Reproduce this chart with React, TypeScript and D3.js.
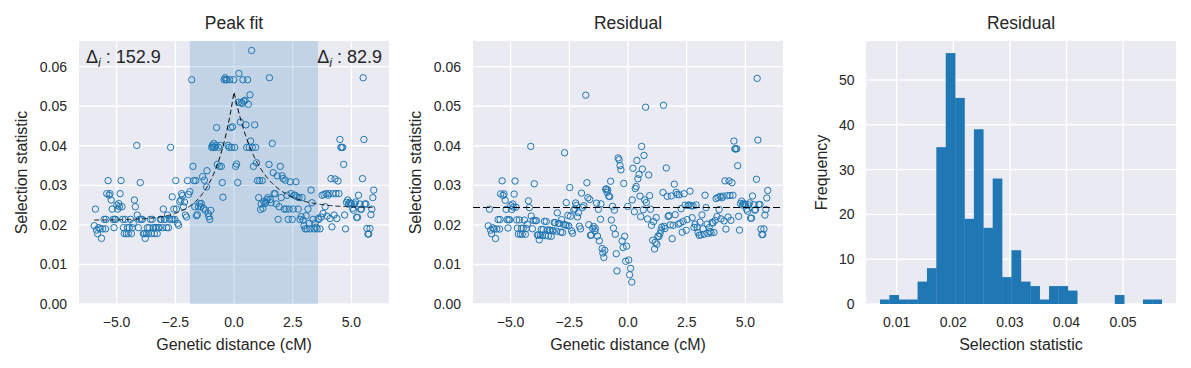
import React from 'react';
import * as d3 from 'd3';

// ---------- data ----------
const distance = [
  -5.95,-5.90,-5.85,-5.81,-5.76,-5.70,-5.64,-5.59,-5.53,-5.47,-5.45,-5.42,-5.36,-5.32,-5.28,-5.23,-5.19,-5.15,-5.11,-5.08,
  -5.04,-4.99,-4.95,-4.91,-4.88,-4.85,-4.81,-4.77,-4.74,-4.71,-4.67,-4.63,-4.58,-4.54,-4.50,-4.46,-4.41,-4.37,-4.33,-4.29,
  -4.24,-4.20,-4.14,-4.12,-4.07,-4.03,-3.99,-3.95,-3.90,-3.86,-3.82,-3.78,-3.73,-3.69,-3.65,-3.61,-3.56,-3.52,-3.48,-3.44,
  -3.39,-3.35,-3.31,-3.27,-3.22,-3.18,-3.14,-3.10,-3.04,-3.01,-2.97,-2.93,-2.87,-2.83,-2.79,-2.74,-2.70,-2.66,-2.63,-2.60,
  -2.56,-2.52,-2.48,-2.45,-2.40,-2.36,-2.31,-2.26,-2.23,-2.19,-2.15,-2.11,-2.07,-2.02,-1.98,-1.94,-1.88,-1.80,-1.75,-1.71,
  -1.67,-1.63,-1.60,-1.56,-1.51,-1.46,-1.41,-1.39,-1.34,-1.30,-1.26,-1.22,-1.17,-1.15,-1.10,-1.07,-1.03,-0.99,-0.95,-0.92,
  -0.89,-0.86,-0.82,-0.78,-0.74,-0.71,-0.66,-0.62,-0.58,-0.54,-0.50,-0.47,-0.42,-0.38,-0.34,-0.30,-0.25,-0.21,-0.18,-0.14,
  -0.10,-0.06,-0.01,0.03,0.07,0.11,0.16,0.18,0.21,0.27,0.31,0.35,0.38,0.42,0.47,0.51,0.54,0.58,0.61,0.65,
  0.68,0.71,0.75,0.78,0.83,0.88,0.92,0.96,1.00,1.05,1.09,1.13,1.16,1.20,1.23,1.27,1.32,1.36,1.40,1.44,
  1.49,1.51,1.54,1.58,1.63,1.67,1.71,1.75,1.80,1.84,1.88,1.92,1.97,2.01,2.05,2.09,2.14,2.18,2.22,2.26,
  2.31,2.35,2.39,2.43,2.48,2.52,2.56,2.60,2.64,2.69,2.73,2.77,2.81,2.86,2.90,2.94,2.98,3.03,3.07,3.11,
  3.15,3.20,3.24,3.28,3.32,3.37,3.41,3.45,3.49,3.54,3.58,3.62,3.66,3.71,3.75,3.79,3.83,3.88,3.92,3.96,
  4.00,4.05,4.09,4.13,4.17,4.21,4.26,4.30,4.34,4.38,4.43,4.47,4.51,4.55,4.58,4.63,4.67,4.71,4.75,4.79,
  4.84,4.88,4.92,4.96,5.01,5.05,5.09,5.13,5.18,5.22,5.26,5.30,5.35,5.39,5.43,5.47,5.50,5.53,5.57,5.62,
  5.66,5.70,5.74,5.79,5.83,5.87,5.91,5.95,
];

const selection = [
  0.0198,0.0240,0.0187,0.0178,0.0193,0.0190,0.0166,0.0190,0.0214,0.0190,0.0214,0.0279,0.0312,0.0275,0.0279,0.0263,0.0240,0.0214,0.0193,0.0214,
  0.0214,0.0250,0.0240,0.0254,0.0246,0.0279,0.0312,0.0246,0.0214,0.0193,0.0178,0.0214,0.0178,0.0193,0.0178,0.0193,0.0214,0.0178,0.0193,0.0204,
  0.0263,0.0246,0.0401,0.0225,0.0193,0.0214,0.0307,0.0214,0.0214,0.0178,0.0178,0.0166,0.0178,0.0193,0.0178,0.0193,0.0214,0.0178,0.0214,0.0193,
  0.0178,0.0193,0.0193,0.0178,0.0193,0.0193,0.0214,0.0214,0.0193,0.0240,0.0214,0.0214,0.0193,0.0225,0.0193,0.0214,0.0396,0.0214,0.0271,0.0214,
  0.0240,0.0214,0.0312,0.0240,0.0204,0.0199,0.0259,0.0263,0.0279,0.0274,0.0246,0.0258,0.0225,0.0220,0.0312,0.0277,0.0284,0.0567,0.0348,0.0312,
  0.0246,0.0312,0.0223,0.0226,0.0246,0.0254,0.0246,0.0254,0.0322,0.0242,0.0313,0.0237,0.0296,0.0337,0.0229,0.0221,0.0214,0.0237,0.0396,0.0401,
  0.0396,0.0406,0.0396,0.0401,0.0446,0.0353,0.0396,0.0348,0.0401,0.0348,0.0307,0.0270,0.0567,0.0572,0.0567,0.0567,0.0401,0.0396,0.0567,0.0446,
  0.0396,0.0448,0.0567,0.0396,0.0348,0.0354,0.0307,0.0510,0.0583,0.0460,0.0510,0.0507,0.0567,0.0513,0.0515,0.0453,0.0396,0.0567,0.0505,0.0396,
  0.0529,0.0412,0.0641,0.0396,0.0348,0.0453,0.0396,0.0357,0.0312,0.0269,0.0312,0.0239,0.0253,0.0312,0.0242,0.0259,0.0254,0.0258,0.0264,0.0269,
  0.0353,0.0572,0.0264,0.0256,0.0406,0.0332,0.0279,0.0279,0.0253,0.0324,0.0214,0.0246,0.0348,0.0269,0.0324,0.0317,0.0240,0.0313,0.0240,0.0275,
  0.0214,0.0240,0.0309,0.0279,0.0214,0.0240,0.0275,0.0275,0.0309,0.0271,0.0240,0.0269,0.0214,0.0221,0.0269,0.0212,0.0198,0.0190,0.0223,0.0190,
  0.0240,0.0204,0.0190,0.0288,0.0256,0.0214,0.0190,0.0204,0.0194,0.0190,0.0216,0.0214,0.0190,0.0220,0.0275,0.0229,0.0277,0.0246,0.0279,0.0222,
  0.0275,0.0279,0.0216,0.0317,0.0195,0.0279,0.0225,0.0316,0.0279,0.0216,0.0311,0.0279,0.0416,0.0396,0.0396,0.0396,0.0353,0.0225,0.0190,0.0257,
  0.0263,0.0253,0.0257,0.0254,0.0253,0.0242,0.0237,0.0253,0.0258,0.0219,0.0219,0.0275,0.0253,0.0239,0.0240,0.0317,0.0572,0.0416,0.0253,0.0253,
  0.0191,0.0177,0.0177,0.0191,0.0226,0.0240,0.0269,0.0288,
];

// fitted peak model
const peakTop = 0.0536;
const baseLeft = 0.0212;
const baseRight = 0.0243;
const decayLeft = 0.85;
const decayRight = 1.05;

const shadeRange = [-1.88, 3.58];
const deltaLeft = '152.9';
const deltaRight = '82.9';
const residualLevel = 0.0244;

// histogram of residuals
const histCounts = [1,2,1,1,5,8,35,56,46,19,39,17,28,6,12,5,4,1,4,4,3,0,0,0,0,2,0,0,1,1];
const histMin = 0.00705;
const histMax = 0.05684;

const distTicks = [-5, -2.5, 0, 2.5, 5];
const selTicks = [0, 0.01, 0.02, 0.03, 0.04, 0.05, 0.06];
const histXTicks = [0.01, 0.02, 0.03, 0.04, 0.05];
const histYTicks = [0, 10, 20, 30, 40, 50];

// ---------- style ----------
const BG = '#EAEAF2';
const BLUE = '#1f77b4';
const TXT = '#262626';
const FONT = '"Liberation Sans", Arial, Helvetica, sans-serif';

const TOP = 41;
const BOTTOM = 304;
const W = 310;
const LEFTS = [79, 473, 866];

function peakComponent(x: number) {
  return x < 0
    ? (peakTop - baseLeft) * Math.exp(x / decayLeft)
    : (peakTop - baseRight) * Math.exp(-x / decayRight);
}
function fitValue(x: number) {
  return (x < 0 ? baseLeft : baseRight) + peakComponent(x);
}

const residual = selection.map((y, i) => y - peakComponent(distance[i]));

const fmtMinus = (s: string) => s.replace('-', '\u2212');

function Frame({ left, title, children }: any) {
  return (
    <g>
      <rect x={left} y={TOP} width={W} height={BOTTOM - TOP} fill={BG} />
      <text x={left + W / 2} y={29} textAnchor="middle" fontSize={17.5} fill={TXT}>{title}</text>
      {children}
    </g>
  );
}

function ScatterPanel({ left, title, ys, kind }: { left: number; title: string; ys: number[]; kind: 'fit' | 'res' }) {
  const x = d3.scaleLinear().domain([-6.6, 6.6]).range([left, left + W]);
  const y = d3.scaleLinear().domain([0, 0.0665]).range([BOTTOM, TOP]);
  const ext = d3.extent(distance) as [number, number];
  const samples = d3.range(0, 601).map((i) => ext[0] + (i / 600) * (ext[1] - ext[0]));
  samples.push(0);
  samples.sort((a, b) => a - b);
  const line = d3.line<number>().x((d) => x(d)).y((d) => y(fitValue(d)));
  return (
    <Frame left={left} title={title}>
      {distTicks.map((t) => (
        <line key={'gx' + t} x1={x(t)} x2={x(t)} y1={TOP} y2={BOTTOM} stroke="#fff" strokeWidth={1.4} />
      ))}
      {selTicks.map((t) => (
        <line key={'gy' + t} x1={left} x2={left + W} y1={y(t)} y2={y(t)} stroke="#fff" strokeWidth={1.4} />
      ))}
      {kind === 'fit' && (
        <rect x={x(shadeRange[0])} y={TOP} width={x(shadeRange[1]) - x(shadeRange[0])} height={BOTTOM - TOP} fill={BLUE} fillOpacity={0.2} />
      )}
      {distance.map((d, i) => (
        <circle key={i} cx={x(d)} cy={y(ys[i])} r={3.2} fill="none" stroke={BLUE} strokeWidth={1} />
      ))}
      {kind === 'fit' ? (
        <path d={line(samples) || ''} fill="none" stroke="#000" strokeWidth={1} strokeDasharray="5,3" />
      ) : (
        <line x1={left} x2={left + W} y1={y(residualLevel)} y2={y(residualLevel)} stroke="#000" strokeWidth={1} strokeDasharray="7,3" />
      )}
      {kind === 'fit' && (
        <g fontSize={18} fill={TXT}>
          <text x={left + 7} y={63}>
            Δ<tspan fontStyle="italic" fontSize={12.5} dy={4}>i</tspan><tspan dy={-4}>{' : ' + deltaLeft}</tspan>
          </text>
          <text x={left + W - 7} y={63} textAnchor="end">
            Δ<tspan fontStyle="italic" fontSize={12.5} dy={4}>i</tspan><tspan dy={-4}>{' : ' + deltaRight}</tspan>
          </text>
        </g>
      )}
      {distTicks.map((t) => (
        <text key={'tx' + t} x={x(t)} y={327} textAnchor="middle" fontSize={14} fill={TXT}>
          {fmtMinus(d3.format('.1f')(t))}
        </text>
      ))}
      {selTicks.map((t) => (
        <text key={'ty' + t} x={left - 12} y={y(t)} dy="0.36em" textAnchor="end" fontSize={14} fill={TXT}>
          {d3.format('.2f')(t)}
        </text>
      ))}
      <text x={left + W / 2} y={350} textAnchor="middle" fontSize={16} fill={TXT}>Genetic distance (cM)</text>
      <text transform={`translate(${left - 52.3},${(TOP + BOTTOM) / 2}) rotate(-90)`} textAnchor="middle" fontSize={16} fill={TXT}>
        Selection statistic
      </text>
    </Frame>
  );
}

function HistPanel({ left }: { left: number }) {
  const x = d3.scaleLinear().domain([0.00458, 0.05936]).range([left, left + W]);
  const y = d3.scaleLinear().domain([0, 58.7]).range([BOTTOM, TOP]);
  const n = histCounts.length;
  const bw = (histMax - histMin) / n;
  return (
    <Frame left={left} title="Residual">
      {histXTicks.map((t) => (
        <line key={'gx' + t} x1={x(t)} x2={x(t)} y1={TOP} y2={BOTTOM} stroke="#fff" strokeWidth={1.4} />
      ))}
      {histYTicks.map((t) => (
        <line key={'gy' + t} x1={left} x2={left + W} y1={y(t)} y2={y(t)} stroke="#fff" strokeWidth={1.4} />
      ))}
      {histCounts.map((c, i) => {
        const x0 = x(histMin + i * bw);
        const x1 = x(histMin + (i + 1) * bw);
        return c > 0 ? (
          <rect key={i} x={x0} y={y(c)} width={x1 - x0 + 0.3} height={y(0) - y(c)} fill={BLUE} />
        ) : null;
      })}
      {histXTicks.map((t) => (
        <text key={'tx' + t} x={x(t)} y={327} textAnchor="middle" fontSize={14} fill={TXT}>
          {d3.format('.2f')(t)}
        </text>
      ))}
      {histYTicks.map((t) => (
        <text key={'ty' + t} x={left - 11.5} y={y(t)} dy="0.36em" textAnchor="end" fontSize={14} fill={TXT}>
          {t}
        </text>
      ))}
      <text x={left + W / 2} y={350} textAnchor="middle" fontSize={16} fill={TXT}>Selection statistic</text>
      <text transform={`translate(${left - 39},${(TOP + BOTTOM) / 2}) rotate(-90)`} textAnchor="middle" fontSize={16} fill={TXT}>
        Frequency
      </text>
    </Frame>
  );
}

export default function App() {
  return (
    <svg
      width={1191}
      height={368}
      style={{ position: 'absolute', left: 0, top: 0, background: '#fff', fontFamily: FONT }}
    >
      <ScatterPanel left={LEFTS[0]} title="Peak fit" ys={selection} kind="fit" />
      <ScatterPanel left={LEFTS[1]} title="Residual" ys={residual} kind="res" />
      <HistPanel left={LEFTS[2]} />
    </svg>
  );
}
